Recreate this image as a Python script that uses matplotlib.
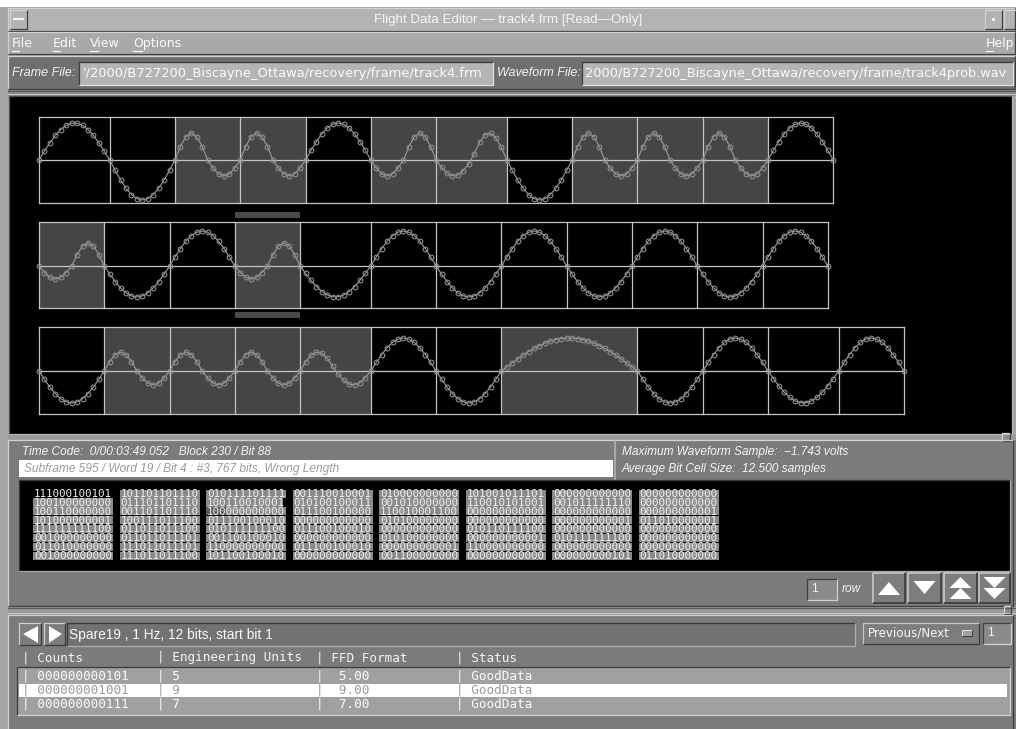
import numpy as np
import matplotlib.pyplot as plt
from matplotlib.patches import Rectangle, Polygon

W, H = 1016, 729

# decoded bit cells for the three waveform rows (1 = extra mid-cell transition)
row1_bits = [0, 0, 1, 1, 0, 1, 1, 0, 1, 1, 1, 0]
row1_len = [13, 12, 12, 12, 12, 12, 13, 12, 12, 12, 12, 12]
row2_bits = [1, 0, 0, 1, 0, 0, 0, 0, 0, 0, 0, 0]
row2_len = [12, 12, 12, 12, 13, 12, 12, 12, 12, 12, 12, 12]
row3_bits = [0, 1, 1, 1, 1, 0, 0, 0, 0, 0, 0, 0]
row3_len = [12, 12, 12, 12, 13, 12, 12, 25, 12, 12, 13, 12]
start_dir = [1, -1, -1]
cursor_row, cursor_cell = 1, 3

# 12-bit words shown in the bit grid, one list per column block
words = [
    ['111000100101', '100100000000', '100110000000', '101000000001',
     '111111111100', '001000000000', '011010000000', '001000000000'],
    ['101101101110', '011101101110', '001101101110', '100111011100',
     '011011011100', '011011011101', '111011011101', '111011011100'],
    ['010111101111', '100110010001', '100000000000', '011100100010',
     '010111111100', '001100100010', '110000000000', '101100100010'],
    ['001110010001', '010100100011', '011100100000', '000000000000',
     '011100100010', '000000000000', '011100100010', '000000000000'],
    ['010000000000', '001010000000', '110010001100', '010100000000',
     '000000000000', '010100000000', '000000000001', '001100000000'],
    ['101001011101', '110010101001', '000000000000', '000000000000',
     '010110111100', '000000000001', '110000000000', '000000000000'],
    ['000000000000', '001011111110', '000000000000', '000000000001',
     '000000000000', '010111111100', '000000000000', '000000000101'],
    ['000000000000', '000000000000', '000000000001', '011010000001',
     '000000000000', '000000000000', '000000000000', '011010000000'],
]

# parameter table
counts = ['000000000101', '000000001001', '000000000111']
eng_units = ['5', '9', '7']
ffd_vals = [5.00, 9.00, 7.00]
status = ['GoodData', 'GoodData', 'GoodData']

fig = plt.figure(figsize=(W / 100, H / 100), dpi=100)
ax = fig.add_axes([0, 0, 1, 1])
ax.set_xlim(0, W)
ax.set_ylim(H, 0)
ax.axis('off')

SANS = 'Liberation Sans'
DJ = 'DejaVu Sans'
MONO = 'DejaVu Sans Mono'


def box(x0, y0, x1, y1, fc, ec='none', lw=0.7, z=1):
    ax.add_patch(Rectangle((x0, y0), x1 - x0, y1 - y0, fc=fc, ec=ec, lw=lw, zorder=z))


def bevel(x0, y0, x1, y1, up=True, light='#d2d2d2', dark='#404040', lw=0.9, z=3):
    c1, c2 = (light, dark) if up else (dark, light)
    ax.plot([x0, x0, x1], [y1, y0, y0], color=c1, lw=lw, zorder=z, solid_capstyle='butt')
    ax.plot([x0, x1, x1], [y1, y1, y0], color=c2, lw=lw, zorder=z, solid_capstyle='butt')


def txt(x, y, s, size=9, color='white', family=SANS, **kw):
    kw.setdefault('va', 'center')
    kw.setdefault('ha', 'left')
    return ax.text(x, y, s, fontsize=size, color=color, family=family, zorder=6, **kw)


# window background and frame
box(0, 0, W, H, '#a5a5a5', z=0)
box(0, 0, W, 7, 'white')
box(8, 8, W, 31, '#b3b3b3')
bevel(8, 8, W - 1, 31)
box(10, 10, 27, 29, '#b3b3b3')
bevel(10, 10, 27, 29)
ax.plot([14, 23], [19, 19], color='#f0f0f0', lw=1.6, zorder=4)
bevel(985, 10, 1002, 29)
box(992, 18, 995, 21, '#f0f0f0')
bevel(1004, 10, W + 2, 29)
txt(508, 19.5, 'Flight Data Editor \u2014 track4.frm [Read\u2014Only]', size=9.6,
    color='#f6f6f6', ha='center')

# menu bar
box(8, 32, W, 54, '#a9a9a9')
bevel(8, 32, W - 1, 54)
for label, x, uw in [('File', 12, 7), ('Edit', 53, 7), ('View', 90, 8), ('Options', 133, 9)]:
    txt(x, 43.5, label, size=9, family=DJ, color='#fbfbfb')
    ax.plot([x, x + uw], [50.5, 50.5], color='#fbfbfb', lw=0.8, zorder=6)
txt(986, 43.5, 'Help', size=9, family=DJ, color='#fbfbfb')
ax.plot([986, 993], [50.5, 50.5], color='#fbfbfb', lw=0.8, zorder=6)

# file name bar
box(8, 56, W, 89, '#6f6f6f')
bevel(8, 56, W - 1, 89)
txt(12, 73, 'Frame File:', size=9, style='italic', color='#f4f4f4')
box(79, 62, 493, 85, '#b4b4b4')
bevel(79, 62, 493, 85, up=False, dark='#3c3c3c', light='#e0e0e0')
txt(83, 73.5, "'/2000/B727200_Biscayne_Ottawa/recovery/frame/track4.frm", size=9.4,
    family=DJ, color='#fafafa')
txt(497, 73, 'Waveform File:', size=9, style='italic', color='#f4f4f4')
box(582, 62, 1013, 85, '#b4b4b4')
bevel(582, 62, 1013, 85, up=False, dark='#3c3c3c', light='#e0e0e0')
txt(585, 73.5, '2000/B727200_Biscayne_Ottawa/recovery/frame/track4prob.wav', size=9.3,
    family=DJ, color='#fafafa')
box(8, 89, W, 96, '#8a8a8a')
ax.plot([8, W], [91, 91], color='#5a5a5a', lw=0.8, zorder=3)
ax.plot([8, W], [94, 94], color='#c4c4c4', lw=0.8, zorder=3)

# waveform display
box(9, 96, 1012, 434, 'black')
bevel(9, 96, 1012, 434, up=False, dark='#505050', light='#b8b8b8')

x_start = 39
dx = 5.44
rows = [
    (row1_bits, row1_len, 117, 203, 160, (37, 40, 27, 16)),
    (row2_bits, row2_len, 222, 308, 266, (35, 31, 23, 13)),
    (row3_bits, row3_len, 327, 414, 371, (33, 32, 19, 14)),
]
grid_c = '#c4c4c4'
for r, (bits, lens, top, bot, yc, amps) in enumerate(rows):
    a0p, a0n, a1p, a1n = amps
    edges = x_start + dx * np.concatenate([[0], np.cumsum(lens)])
    # shaded cells: "1" bits and the over-length cell
    for i, (b, n) in enumerate(zip(bits, lens)):
        if b == 1 or n > 20:
            box(edges[i], top, edges[i + 1], bot, '#454545', z=2)
    # sampled signal
    d = start_dir[r]
    ys = []
    for b, n in zip(bits, lens):
        tt = np.arange(n) / n
        if b == 0:
            amp = a0p if d > 0 else a0n
            ys.append(d * amp * np.sin(np.pi * tt))
            d = -d
        else:
            v = d * np.sin(2 * np.pi * tt)
            ys.append(np.where(v > 0, a1p, a1n) * v)
    ys.append([0.0])
    ys = np.concatenate(ys)
    xs = x_start + dx * np.arange(len(ys))
    for e in edges:
        ax.plot([e, e], [top, bot], color=grid_c, lw=0.9, zorder=3)
    ax.plot([edges[0], edges[-1]], [top, top], color=grid_c, lw=0.9, zorder=3)
    ax.plot([edges[0], edges[-1]], [bot, bot], color=grid_c, lw=0.9, zorder=3)
    ax.plot([edges[0], edges[-1]], [yc, yc], color=grid_c, lw=0.9, zorder=3)
    ax.plot(xs, yc - ys, color='#9c9c9c', lw=0.8, zorder=4)
    ax.plot(xs, yc - ys, 'o', ms=3.4, mfc='none', mec='#8e8e8e', mew=0.8, zorder=5)
    if r == cursor_row:
        cx0, cx1 = edges[cursor_cell], edges[cursor_cell + 1]
        box(cx0, top - 10, cx1, top - 4, '#4a4a4a', z=2)
        box(cx0, bot + 4, cx1, bot + 10, '#4a4a4a', z=2)

# sash
box(8, 435, W, 440, '#9a9a9a')
box(1002, 433, 1010, 441, '#8a8a8a')
bevel(1002, 433, 1010, 441)

# status / info panel
box(8, 440, W, 606, '#7b7b7b')
bevel(8, 440, 1013, 606)
ax.plot([615, 615], [441, 479], color='#b0b0b0', lw=1.2, zorder=3)
txt(22, 452, 'Time Code:  0/00:03:49.052   Block 230 / Bit 88', size=8.6,
    style='italic', color='#f6f6f6')
box(19, 460, 613, 477, 'white')
txt(24, 468.5, 'Subframe 595 / Word 19 / Bit 4 : #3, 767 bits, Wrong Length', size=8.6,
    style='italic', color='#9a9a9a')
txt(622, 452, 'Maximum Waveform Sample:  \u22121.743 volts', size=8.6,
    style='italic', color='#f6f6f6')
txt(622, 468.5, 'Average Bit Cell Size:  12.500 samples', size=8.6,
    style='italic', color='#f6f6f6')

# bit grid
box(19, 480, 1010, 571, 'black')
bevel(19, 480, 1010, 571, up=False, dark='#3a3a3a', light='#a8a8a8')
bx0, bstep, bw = 33, 86.5, 80
ry0, rstep = 489.5, 8.95
for bi, block in enumerate(words):
    bx = bx0 + bi * bstep
    for ri, w in enumerate(block):
        y0 = ry0 + ri * rstep
        bg = 'black' if (bi == 0 and ri == 0) else '#8a8a8a'
        box(bx, y0, bx + bw, y0 + rstep - 0.9, bg, z=2)
        txt(bx + 0.8, y0 + 4.2, w, size=7.85, family=MONO, color='#f2f2f2')
# word under the cursor
box(bx0 + 2 * bstep, ry0 + 2 * rstep, bx0 + 2 * bstep + 20, ry0 + 3 * rstep - 0.9, '#5c5c5c', z=2)
box(bx0 + 2 * bstep + 77, ry0 + rstep, bx0 + 2 * bstep + 80, ry0 + 2 * rstep - 0.9, 'black', z=2)

# row navigation
box(807, 579, 837, 600, '#8a8a8a')
bevel(807, 579, 837, 600, up=False)
txt(811, 589.5, '1', size=8.6, color='#f4f4f4')
txt(842, 589.5, 'row', size=8.6, style='italic', color='#f4f4f4')
buttons = [(873, 905), (908, 941), (944, 977), (979, 1010)]
for k, (b0, b1) in enumerate(buttons):
    box(b0, 573, b1, 603, '#7d7d7d')
    bevel(b0, 573, b1, 603, light='#c8c8c8', dark='#3a3a3a', lw=1.2)
    cx = (b0 + b1) / 2
    if k == 0:
        tri = [[(cx - 11, 595), (cx + 11, 595), (cx, 582)]]
    elif k == 1:
        tri = [[(cx - 11, 581), (cx + 11, 581), (cx, 594)]]
    elif k == 2:
        tri = [[(cx - 11, 588), (cx + 11, 588), (cx, 577)],
               [(cx - 11, 599), (cx + 11, 599), (cx, 588)]]
    else:
        tri = [[(cx - 11, 577), (cx + 11, 577), (cx, 588)],
               [(cx - 11, 588), (cx + 11, 588), (cx, 599)]]
    for p in tri:
        ax.add_patch(Polygon(p, closed=True, fc='white', ec='none', zorder=5))

# lower sash
box(8, 606, W, 615, '#9a9a9a')
ax.plot([8, W], [608, 608], color='#5a5a5a', lw=0.8, zorder=3)
ax.plot([8, W], [613, 613], color='#c8c8c8', lw=0.8, zorder=3)
box(1004, 606, 1011, 614, '#8a8a8a')
bevel(1004, 606, 1011, 614)

# parameter panel
box(8, 615, W, H, '#7b7b7b')
bevel(8, 615, 1013, H + 3)
for b0, b1, pts in [(19, 41, [(23, 634), (38, 626), (38, 643)]),
                    (44, 65, [(49, 626), (49, 643), (62, 634)])]:
    box(b0, 623, b1, 645, '#7d7d7d')
    bevel(b0, 623, b1, 645, light='#d0d0d0', dark='#3a3a3a')
    ax.add_patch(Polygon(pts, closed=True, fc='white', ec='none', zorder=5))
box(67, 623, 855, 646, '#727272')
bevel(67, 623, 855, 646, up=False, dark='#3a3a3a', light='#b0b0b0')
txt(69, 634.5, 'Spare19 , 1 Hz, 12 bits, start bit 1', size=9.9, color='#fafafa')
box(863, 623, 979, 644, '#7d7d7d')
bevel(863, 623, 979, 644, light='#c8c8c8', dark='#3a3a3a')
txt(868, 633.5, 'Previous/Next', size=8.6, family=DJ, color='#f6f6f6')
box(962, 630, 972, 636, '#a0a0a0')
bevel(962, 630, 972, 636, light='#e6e6e6', dark='#3a3a3a', lw=0.7)
box(983, 623, 1011, 644, '#8a8a8a')
bevel(983, 623, 1011, 644, up=False)
txt(987, 633.5, '1', size=8.6, color='#f4f4f4')

# table header and rows
cols = [22, 157, 316, 456]
headers = ['| Counts', '| Engineering Units', '| FFD Format', '| Status']
for x, h in zip(cols, headers):
    txt(x, 657.5, h, size=9.1, family=MONO, color='#f4f4f4')
box(17, 667, 1010, 715, '#a0a0a0')
bevel(17, 667, 1010, 715, up=False, dark='#3c3c3c', light='#d0d0d0')
row_y = [676, 690, 704.5]
box(19, 683.5, 1007, 696.5, 'white', z=2)
for i in range(len(counts)):
    c = '#9a9a9a' if i == 1 else '#fbfbfb'
    vals = ['| ' + counts[i], '| ' + eng_units[i], '|  %.2f' % ffd_vals[i], '| ' + status[i]]
    for x, v in zip(cols, vals):
        txt(x, row_y[i], v, size=9.1, family=MONO, color=c)

fig.savefig('out.png', dpi=100)
